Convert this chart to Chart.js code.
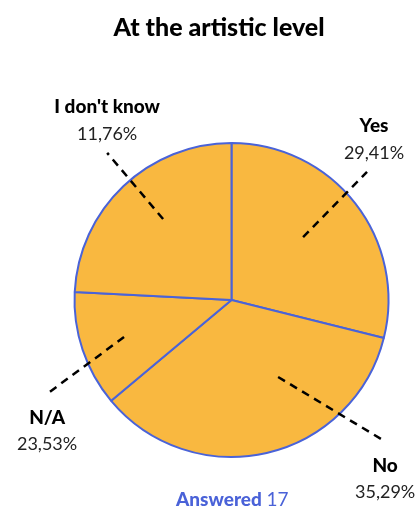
<!DOCTYPE html>
<html>
<head>
<meta charset="utf-8">
<script src="https://cdn.jsdelivr.net/npm/chart.js@4"></script>
<style>
  html, body { margin: 0; padding: 0; background: #fff; }
  #wrap { width: 419px; height: 509px; }
</style>
</head>
<body>
<div id="wrap"><canvas id="pieChart" width="419" height="509"></canvas></div>
<script>
// Datos (sentido horario desde arriba)
const sliceNames = ['Yes', 'No', 'N/A', "I don't know"];
const sliceValues = [28.9, 35.0, 11.9, 24.2];
const pctLabels = ['29,41%', '35,29%', '23,53%', '11,76%'];
const answeredCount = 17;

// Líneas guía: [ángulo en grados, radio relativo] para el extremo interior y exterior
const callouts = [
  { inner: [48.7, 0.607], outer: [46.6, 1.188], dx: 7 },
  { inner: [148.8, 0.573], outer: [132.7, 1.323], dx: 1 },
  { inner: [251, 0.724], outer: [243.1, 1.31], dx: -1 },
  { inner: [319.8, 0.675], outer: [319.8, 1.227], dx: 0 }
];

const FONT = 'Lato, "Noto Sans", sans-serif';

function polar(arc, a, f) {
  const rad = a * Math.PI / 180;
  const r = arc.outerRadius * f;
  return { x: arc.x + Math.sin(rad) * r, y: arc.y - Math.cos(rad) * r };
}

const labelPlugin = {
  id: 'calloutLabels',
  afterDraw(chart) {
    const ctx = chart.ctx;
    const arcs = chart.getDatasetMeta(0).data;
    ctx.save();

    // Título
    ctx.fillStyle = '#000';
    ctx.textAlign = 'center';
    ctx.textBaseline = 'alphabetic';
    ctx.font = '900 25px ' + FONT;
    ctx.fillText('At the artistic level', 219, 36);

    arcs.forEach((arc, i) => {
      const c = callouts[i];
      const p1 = polar(arc, c.inner[0], c.inner[1]);
      const p2 = polar(arc, c.outer[0], c.outer[1]);
      ctx.beginPath();
      ctx.setLineDash([8, 6]);
      ctx.lineWidth = 2.5;
      ctx.strokeStyle = '#000';
      ctx.moveTo(p1.x, p1.y);
      ctx.lineTo(p2.x, p2.y);
      ctx.stroke();
      ctx.setLineDash([]);

      const above = p2.y < arc.y;
      const nameY = above ? p2.y - 40 : p2.y + 31;
      const valY = above ? p2.y - 13 : p2.y + 57;
      const tx = p2.x + c.dx;
      ctx.fillStyle = '#000';
      ctx.font = '900 19px ' + FONT;
      ctx.fillText(sliceNames[i], tx, nameY);
      ctx.fillStyle = '#222';
      ctx.font = '400 18px ' + FONT;
      ctx.fillText(pctLabels[i], tx, valY);
    });

    // Respuestas
    ctx.textAlign = 'left';
    ctx.fillStyle = '#4a62d8';
    ctx.font = '900 19px ' + FONT;
    const word = 'Answered ';
    ctx.fillText(word, 176, 506);
    const w = ctx.measureText(word).width;
    ctx.font = '400 19px ' + FONT;
    ctx.fillText(String(answeredCount), 176 + w, 506);
    ctx.restore();
  }
};

const ctxPie = document.getElementById('pieChart').getContext('2d');
const pieChart = new Chart(ctxPie, {
  type: 'pie',
  data: {
    labels: sliceNames,
    datasets: [{
      data: sliceValues,
      backgroundColor: '#f9b840',
      borderColor: '#4a63d8',
      borderWidth: 2
    }]
  },
  options: {
    responsive: false,
    animation: false,
    layout: {
      padding: { left: 73, right: 29, top: 142, bottom: 51 }
    },
    plugins: {
      legend: { display: false },
      title: { display: false },
      tooltip: { enabled: false }
    }
  },
  plugins: [labelPlugin]
});
</script>
</body>
</html>
